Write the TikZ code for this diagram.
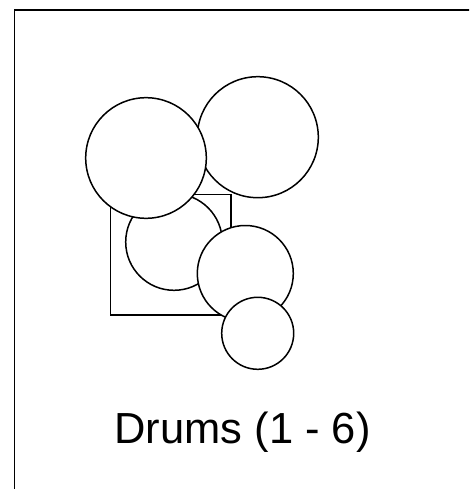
\documentclass[tikz,border=0pt]{standalone}
\usepackage{fontspec}
\setmainfont{Liberation Sans}
\usetikzlibrary{positioning}

\begin{document}
\begin{tikzpicture}[
    x=1pt, y=-1pt,
    line width=1.5pt,
    drum/.style={draw, circle, fill=white, inner sep=0pt, minimum size=#1},
    stand/.style={draw, rectangle, inner sep=0pt, minimum size=120.5pt},
    caption/.style={anchor=base, inner sep=0pt,
                    font=\fontsize{43.5}{52}\selectfont}]
    \clip (0,0) rectangle (469,489);
    \useasboundingbox (0,0) rectangle (469,489);
    % frame, open to the right and bottom
    \draw[line width=1.3pt] (14.5,520) |- (500,10);
    % kit, back to front
    \node[stand] (seat) at (170.5,254.5) {};
    \node[drum=96.6pt] (snare) at (174,242) {};
    \node[drum=96pt] (tomlow) at (245.3,273.5) {};
    \node[drum=72pt] (tomsmall) at (257.7,333.3) {};
    \node[drum=121pt] (cymright) at (257.8,137.2) {};
    \node[drum=120.6pt] (cymleft) at (146,158) {};
    \node[caption] (label) at (242.5,443.3) {Drums (1 - 6)};
\end{tikzpicture}
\end{document}
